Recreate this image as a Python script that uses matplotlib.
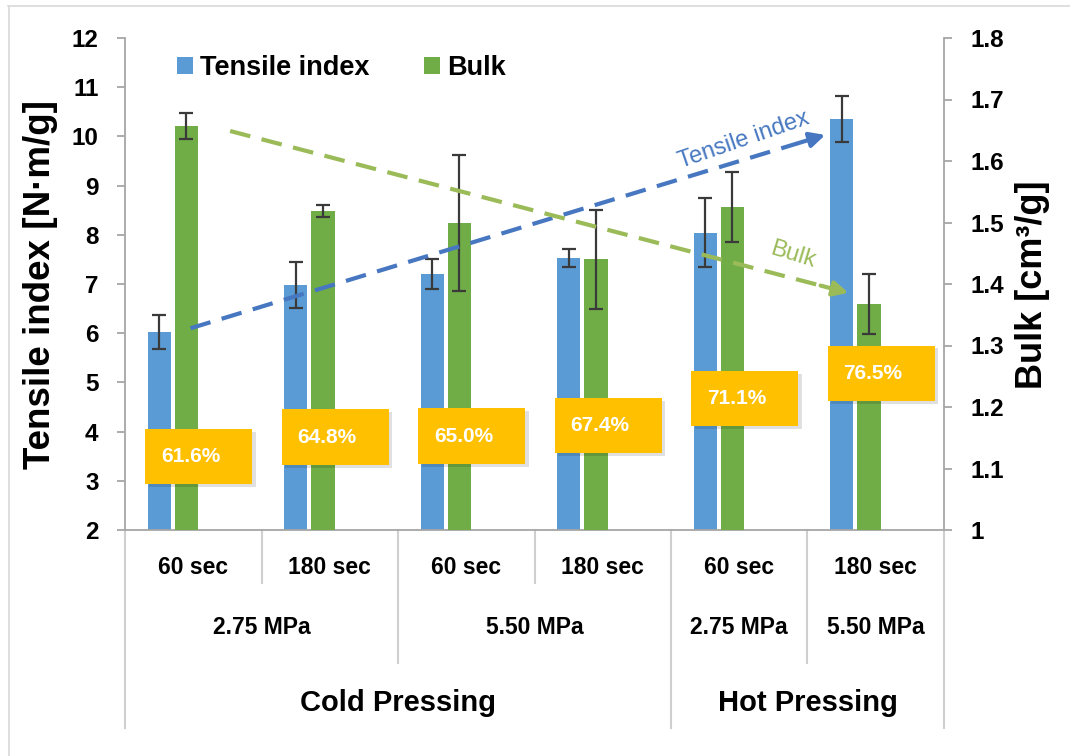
import matplotlib.pyplot as plt
import matplotlib.patches as patches
import numpy as np

plt.rcParams['font.family'] = ['Liberation Sans', 'DejaVu Sans']

# data
timeLabels = ['60 sec', '180 sec', '60 sec', '180 sec', '60 sec', '180 sec']
pressureLabels = ['2.75 MPa', '5.50 MPa', '2.75 MPa', '5.50 MPa']
pressureCenters = [0.5, 2.5, 4, 5]
methodLabels = ['Cold Pressing', 'Hot Pressing']
methodCenters = [1.5, 4.5]

tensile = [6.02, 6.98, 7.20, 7.53, 8.04, 10.35]
tensileErr = [0.34, 0.46, 0.31, 0.19, 0.70, 0.47]
bulk = [1.657, 1.519, 1.499, 1.440, 1.525, 1.367]
bulkErr = [0.021, 0.010, 0.110, 0.081, 0.057, 0.049]
percentLabels = ['61.6%', '64.8%', '65.0%', '67.4%', '71.1%', '76.5%']

# layout / style settings
boxY = [3.50, 3.89, 3.91, 4.13, 4.68, 5.19]   # box centres on the left axis
blueCol = '#5B9BD5'
greenCol = '#70AD47'
boxCol = '#FFC000'
arrowBlue = '#4677C0'
arrowGreen = '#9BBB59'
errCol = '#3A3A3A'
spineCol = '#A6A6A6'
sepCol = '#CFCFCF'
barWidth = 0.17

fig = plt.figure(figsize=(10.7, 7.56), dpi=100)
ax = fig.add_axes([125 / 1070, 1 - 530 / 756, 819 / 1070, 492 / 756])
ax2 = ax.twinx()

x = np.arange(len(tensile))
ax.bar(x - 0.25, tensile, width=barWidth, color=blueCol, label='Tensile index',
       yerr=tensileErr, capsize=5,
       error_kw=dict(ecolor=errCol, elinewidth=1.6, capthick=1.6))
ax2.bar(x - 0.05, bulk, width=barWidth, color=greenCol, label='Bulk',
        yerr=bulkErr, capsize=5,
        error_kw=dict(ecolor=errCol, elinewidth=1.6, capthick=1.6))

ax.set_xlim(-0.5, 5.5)
ax.set_ylim(2, 12)
ax2.set_ylim(1, 1.8)
ax.set_yticks(np.arange(2, 13, 1))
ax2.set_yticks(np.arange(1.0, 1.81, 0.1))
ax2.set_yticklabels(['{:g}'.format(round(v, 1)) for v in np.arange(1.0, 1.81, 0.1)])
ax.set_xticks([])

for a in (ax, ax2):
    a.spines['top'].set_visible(False)
    for s in ('left', 'right', 'bottom'):
        a.spines[s].set_color(spineCol)
        a.spines[s].set_linewidth(1.3)
    a.tick_params(axis='y', length=6, width=1.3, color=spineCol, pad=13,
                  labelsize=17.5)
    for lbl in a.get_yticklabels():
        lbl.set_fontweight('bold')
ax.spines['right'].set_visible(False)
ax2.spines['left'].set_visible(False)
ax2.spines['bottom'].set_visible(False)

# axis titles
fig.text(41 / 1070, 0.624, 'Tensile index [N\u00b7m/g]', rotation=90,
         ha='center', va='center', fontsize=26.5, fontweight='bold')
fig.text(1033 / 1070, 0.624, 'Bulk [cm\u00b3/g]', rotation=90,
         ha='center', va='center', fontsize=26, fontweight='bold')

# yellow percentage boxes
bw, bh = 0.785, 1.12
for i, (txt, yc) in enumerate(zip(percentLabels, boxY)):
    xc = i + 0.04
    shadow = patches.Rectangle((xc - bw / 2 + 0.025, yc - bh / 2 - 0.06), bw, bh,
                               facecolor='#000000', alpha=0.12, edgecolor='none',
                               transform=ax.transData, zorder=5)
    box = patches.Rectangle((xc - bw / 2, yc - bh / 2), bw, bh,
                            facecolor=boxCol, edgecolor='none',
                            transform=ax.transData, zorder=6)
    ax2.add_patch(shadow)
    ax2.add_patch(box)
    ax2.text(xc - 0.06, yc, txt, transform=ax.transData, ha='center', va='center',
             color='white', fontsize=15, fontweight='bold', zorder=7)

# trend arrows (left axis coordinates)
blueStart, blueEnd = (-0.02, 6.1), (4.63, 10.03)
greenStart, greenEnd = (0.27, 10.11), (4.80, 6.82)
for (p0, p1, col) in ((blueStart, blueEnd, arrowBlue), (greenStart, greenEnd, arrowGreen)):
    frac = 0.955
    pm = (p0[0] + (p1[0] - p0[0]) * frac, p0[1] + (p1[1] - p0[1]) * frac)
    ax2.plot([p0[0], pm[0]], [p0[1], pm[1]], transform=ax.transData, color=col,
             lw=3, dashes=(5, 2.8), zorder=8, solid_capstyle='butt')
    ax2.annotate('', xy=p1, xycoords=ax.transData, xytext=pm, textcoords=ax.transData,
                 arrowprops=dict(arrowstyle='-|>,head_length=0.9,head_width=0.45',
                                 color=col, lw=3, shrinkA=0, shrinkB=0), zorder=8)

ax2.text(4.03, 9.93, 'Tensile index', transform=ax.transData, rotation=19,
         color=arrowBlue, fontsize=17, ha='center', va='center', zorder=9)
ax2.text(4.39, 7.59, 'Bulk', transform=ax.transData, rotation=-17,
         color=arrowGreen, fontsize=17, ha='center', va='center', zorder=9)

# legend
h1, l1 = ax.get_legend_handles_labels()
h2, l2 = ax2.get_legend_handles_labels()
leg = ax2.legend(h1 + h2, l1 + l2, loc='upper left', bbox_to_anchor=(0.034, 1.015),
                 ncol=2, frameon=False, handlelength=0.6, handleheight=0.6,
                 handletextpad=0.25, columnspacing=2.0,
                 prop=dict(size=19.5, weight='bold'))

# multi-level category axis
xt = ax.get_xaxis_transform()
for i, t in enumerate(timeLabels):
    ax.text(i, -0.077, t, transform=xt, ha='center', va='center',
            fontsize=16.5, fontweight='bold')
for c, t in zip(pressureCenters, pressureLabels):
    ax.text(c, -0.199, t, transform=xt, ha='center', va='center',
            fontsize=16.5, fontweight='bold')
for c, t in zip(methodCenters, methodLabels):
    ax.text(c, -0.352, t, transform=xt, ha='center', va='center',
            fontsize=21, fontweight='bold')

sepDepth = {-0.5: -0.402, 0.5: -0.108, 1.5: -0.270, 2.5: -0.108,
            3.5: -0.402, 4.5: -0.270, 5.5: -0.402}
for xb, yb in sepDepth.items():
    ax.plot([xb, xb], [0, yb], transform=xt, color=sepCol, lw=1.5, clip_on=False)

# outer frame (top and left edges)
fig.add_artist(plt.Line2D([8 / 1070, 1], [1 - 6 / 756, 1 - 6 / 756],
                          transform=fig.transFigure, color='#D9D9D9', lw=1.2))
fig.add_artist(plt.Line2D([9 / 1070, 9 / 1070], [0, 1 - 6 / 756],
                          transform=fig.transFigure, color='#D9D9D9', lw=1.2))

fig.savefig('out.png', dpi=100)
